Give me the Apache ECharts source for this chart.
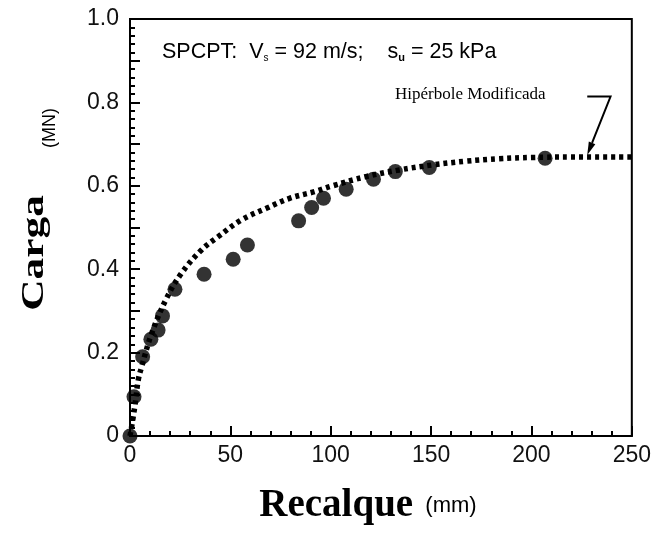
<!DOCTYPE html>
<html><head><meta charset="utf-8">
<script src="https://cdn.jsdelivr.net/npm/echarts@6/dist/echarts.min.js"></script>
<style>html,body{margin:0;padding:0;background:#fff}#c{width:654px;height:533px}</style>
</head><body><div id="c"></div>
<script>
// measured load test points (settlement mm, load MN)
const pointsX = [0, 2, 6.3, 10.4, 14, 16.2, 22.4, 36.9, 51.4, 58.5, 84, 90.5, 96.4, 107.7, 121.3, 132.2, 149.1, 206.8];
const pointsY = [0, 0.094, 0.19, 0.232, 0.254, 0.288, 0.352, 0.388, 0.424, 0.458, 0.516, 0.548, 0.570, 0.592, 0.616, 0.634, 0.644, 0.666];
// modified hyperbola curve
const curveX = [0, 0.8, 2.5, 4.1, 5.8, 10.8, 18.2, 25.6, 35.6, 43.9, 55.5, 67.9, 79.5, 92, 101, 117.6, 134.2, 150.7, 167.3, 183.9, 200.5, 220, 250];
const curveY = [0, 0.022, 0.075, 0.134, 0.166, 0.246, 0.33, 0.39, 0.446, 0.478, 0.518, 0.546, 0.570, 0.586, 0.600, 0.622, 0.638, 0.650, 0.659, 0.665, 0.668, 0.669, 0.669];
const xTicks = [0, 50, 100, 150, 200, 250];
const yTicks = [0, 0.2, 0.4, 0.6, 0.8, 1.0];

const chart = echarts.init(document.getElementById('c'));
const sans = 'Liberation Sans, Arial, sans-serif';
const serif = 'Liberation Serif, Times New Roman, serif';
chart.setOption({
  animation: false,
  grid: {left: 130, right: 21, top: 19, bottom: 97, show: true, borderColor: '#000', borderWidth: 2},
  xAxis: {
    type: 'value', min: xTicks[0], max: xTicks[xTicks.length-1], interval: 50,
    axisLine: {lineStyle: {color: '#000', width: 2}},
    axisTick: {inside: true, length: 10, lineStyle: {color: '#000', width: 2}},
    minorTick: {show: true, splitNumber: 5, length: 5, lineStyle: {color: '#000', width: 2}},
    splitLine: {show: false},
    axisLabel: {color: '#111', fontFamily: sans, fontSize: 23, margin: 8,
      formatter: v => xTicks.indexOf(v) >= 0 ? String(v) : ''}
  },
  yAxis: {
    type: 'value', min: 0, max: 1, interval: 0.1,
    axisLine: {lineStyle: {color: '#000', width: 2}},
    axisTick: {inside: true, length: 10, lineStyle: {color: '#000', width: 2}},
    minorTick: {show: true, splitNumber: 5, length: 5, lineStyle: {color: '#000', width: 2}},
    splitLine: {show: false},
    axisLabel: {color: '#111', fontFamily: sans, fontSize: 23, margin: 11,
      formatter: v => {
        const k = yTicks.findIndex(t => Math.abs(t - v) < 1e-6);
        if (k < 0) return '';
        return v === 0 ? '0' : yTicks[k].toFixed(1);
      }}
  },
  series: [
    {type: 'line', data: curveX.map((x, i) => [x, curveY[i]]), smooth: 0.4, showSymbol: false,
     lineStyle: {color: '#000', width: 5.5, type: [4, 4]}, z: 2},
    {type: 'scatter', data: pointsX.map((x, i) => [x, pointsY[i]]), symbol: 'circle', symbolSize: 15,
     itemStyle: {color: '#000'}, z: 3}
  ]
});

function px(p) { return chart.convertToPixel({gridIndex: 0}, p); }
const a0 = px([227.8, 0.814]), a1 = px([239.4, 0.814]), tip = px([227.8, 0.674]);
const ang = Math.atan2(tip[1] - a1[1], tip[0] - a1[0]);
const hl = 13, hw = 3.5;
const bx = tip[0] - hl * Math.cos(ang), by = tip[1] - hl * Math.sin(ang);
const nx = -Math.sin(ang) * hw, ny = Math.cos(ang) * hw;
chart.setOption({
  graphic: [
    {type: 'polyline', shape: {points: [a0, a1, [bx, by]]}, style: {stroke: '#000', lineWidth: 2, fill: null}, z: 10},
    {type: 'polygon', shape: {points: [tip, [bx + nx, by + ny], [bx - nx, by - ny]]}, style: {fill: '#000'}, z: 10},
    {type: 'text', x: 395, y: 95, z: 10,
     style: {text: 'Hipérbole Modificada', font: '17px ' + serif, fill: '#000', align: 'left', verticalAlign: 'middle'}},
    {type: 'text', x: 162, y: 52, z: 10,
     style: {
       text: '{a|SPCPT:  V}{s|s}{a| = 92 m/s;    s}{u|u}{a| = 25 kPa}',
       align: 'left', verticalAlign: 'middle',
       rich: {
         a: {font: '21.5px ' + sans, fill: '#000', verticalAlign: 'middle'},
         s: {font: '10px ' + sans, fill: '#000', verticalAlign: 'bottom', padding: [12, 0, 0, 0]},
         u: {font: 'bold 11px ' + sans, fill: '#000', verticalAlign: 'bottom', padding: [12, 0, 0, 0]}
       }
     }},
    {type: 'text', x: 35, y: 253, rotation: Math.PI / 2, scaleX: 1.4, z: 10,
     style: {text: 'Carga', font: 'bold 31px ' + serif, fill: '#000', align: 'center', verticalAlign: 'middle'}},
    {type: 'text', x: 50, y: 128, rotation: Math.PI / 2, z: 10,
     style: {text: '(MN)', font: '18px ' + sans, fill: '#000', align: 'center', verticalAlign: 'middle'}},
    {type: 'text', x: 368, y: 506, z: 10,
     style: {
       text: '{r|Recalque}{m|  (mm)}', align: 'center', verticalAlign: 'middle',
       rich: {
         r: {font: 'bold 39px ' + serif, fill: '#000'},
         m: {font: '22px ' + sans, fill: '#000'}
       }
     }}
  ]
});
</script></body></html>
